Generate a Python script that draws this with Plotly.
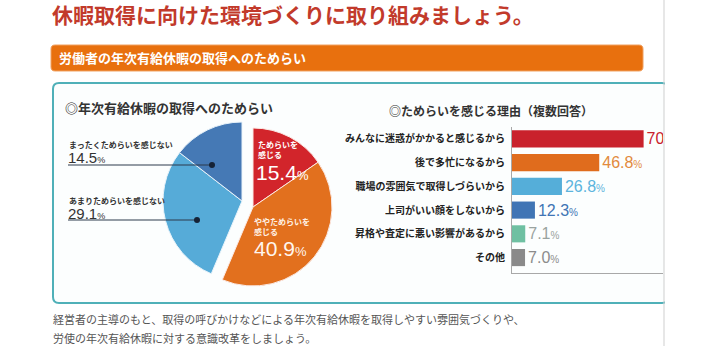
import plotly.graph_objects as go

W, H = 712, 346
JP = "Noto Sans CJK JP"
NUM = "Liberation Sans"


def px(x):
    return x / W


def py(y):
    return 1 - y / H


# ---------------- data ----------------
title_text = "休暇取得に向けた環境づくりに取り組みましょう。"
banner_text = "労働者の年次有給休暇の取得へのためらい"
pie_title = "◎年次有給休暇の取得へのためらい"
bar_title = "◎ためらいを感じる理由（複数回答）"
footer_lines = [
    "経営者の主導のもと、取得の呼びかけなどによる年次有給休暇を取得しやすい雰囲気づくりや、",
    "労使の年次有給休暇に対する意識改革をしましょう。",
]

pie_labels = ["ためらいを感じる", "ややためらいを感じる", "あまりためらいを感じない", "まったくためらいを感じない"]
pie_values = [15.4, 40.9, 29.1, 14.5]
pie_colors = ["#d2252b", "#e2701e", "#56abd8", "#4579b5"]

reason_labels = [
    "みんなに迷惑がかかると感じるから",
    "後で多忙になるから",
    "職場の雰囲気で取得しづらいから",
    "上司がいい顔をしないから",
    "昇格や査定に悪い影響があるから",
    "その他",
]
reason_values = [70.6, 46.8, 26.8, 12.3, 7.1, 7.0]
reason_colors = ["#c9212c", "#e06c1d", "#55aed9", "#4075b5", "#6fc0a2", "#8a8a8a"]
reason_text_colors = ["#c9212c", "#e28a3c", "#5cb4dd", "#4075b5", "#9aa3a0", "#8c8c8c"]

fig = go.Figure()

# ---------------- pie (two exploded groups) ----------------
R = 79
grp_a = pie_values[:2]
grp_b = pie_values[2:]
clear = "rgba(0,0,0,0)"


def dom(cx, cy, r):
    return dict(x=[px(cx - r), px(cx + r)], y=[py(cy + r), py(cy - r)])


fig.add_trace(go.Pie(
    values=grp_a + [sum(grp_b)],
    labels=pie_labels[:2] + ["_b"],
    marker=dict(colors=pie_colors[:2] + [clear],
                line=dict(color=["#fbe9e4", "#fbe9e4", clear], width=[1, 1, 0])),
    sort=False, direction="clockwise", rotation=0,
    textinfo="none", hoverinfo="label+value", showlegend=False,
    domain=dom(253, 207, R),
))
fig.add_trace(go.Pie(
    values=[sum(grp_a)] + grp_b,
    labels=["_a"] + pie_labels[2:],
    marker=dict(colors=[clear] + pie_colors[2:],
                line=dict(color=[clear, "#e8f3fa", "#e8f3fa"], width=[0, 1, 1])),
    sort=False, direction="clockwise", rotation=0,
    textinfo="none", hoverinfo="label+value", showlegend=False,
    domain=dom(242, 201, R),
))

# ---------------- bars ----------------
ys = list(range(len(reason_labels)))
fig.add_trace(go.Bar(
    x=reason_values, y=ys, orientation="h",
    marker=dict(color=reason_colors, line=dict(width=0)),
    width=0.72,
    text=[f"{v:.1f}<span style='font-size:10px'>%</span>" for v in reason_values],
    textposition="outside",
    textfont=dict(family=NUM, size=16, color=reason_text_colors),
    cliponaxis=True, constraintext="none",
    showlegend=False, hoverinfo="x+y",
))

fig.update_layout(
    width=W, height=H,
    margin=dict(l=0, r=0, t=0, b=0),
    paper_bgcolor="white", plot_bgcolor="rgba(0,0,0,0)",
    xaxis=dict(domain=[px(512), px(663)], range=[0, 81], showgrid=False,
               zeroline=False, showticklabels=False, ticks="",
               showline=True, linecolor="#a8a8a8", linewidth=1),
    yaxis=dict(domain=[py(273), py(127)], range=[5.65, -0.5], showgrid=False,
               zeroline=False, tickvals=ys, ticktext=[f"<b>{t}</b>" for t in reason_labels],
               ticks="", ticklabelstandoff=4,
               tickfont=dict(family=JP, size=10, color="#222222"),
               showline=True, linecolor="#a8a8a8", linewidth=1),
    bargap=0.28,
)

# ---------------- shapes ----------------
def rrect(x0, y0, x1, y1, r):
    X = lambda v: f"{px(v):.5f}"
    Y = lambda v: f"{py(v):.5f}"
    return (f"M {X(x0 + r)} {Y(y0)} L {X(x1 - r)} {Y(y0)} Q {X(x1)} {Y(y0)} {X(x1)} {Y(y0 + r)} "
            f"L {X(x1)} {Y(y1 - r)} Q {X(x1)} {Y(y1)} {X(x1 - r)} {Y(y1)} "
            f"L {X(x0 + r)} {Y(y1)} Q {X(x0)} {Y(y1)} {X(x0)} {Y(y1 - r)} "
            f"L {X(x0)} {Y(y0 + r)} Q {X(x0)} {Y(y0)} {X(x0 + r)} {Y(y0)} Z")


shapes = [
    dict(type="path", xref="paper", yref="paper", path=rrect(53, 83, 668, 303, 6),
         fillcolor="#fcfefe", line=dict(color="#4fb0b8", width=2), layer="below"),
    dict(type="path", xref="paper", yref="paper", path=rrect(51, 45, 643, 71, 4),
         fillcolor="#e8700e", line=dict(color="#f0a060", width=1), layer="below"),
    dict(type="rect", xref="paper", yref="paper", x0=px(665), x1=1, y0=0, y1=1,
         fillcolor="white", line=dict(width=0), layer="below"),
    dict(type="line", xref="paper", yref="paper", x0=px(664), x1=px(664), y0=0, y1=1,
         line=dict(color="#cfcfcf", width=1)),
    # leader lines for the pie labels
    dict(type="line", xref="paper", yref="paper", x0=px(68), x1=px(212), y0=py(165), y1=py(165),
         line=dict(color="#2d3b4c", width=1.2)),
    dict(type="line", xref="paper", yref="paper", x0=px(68), x1=px(197), y0=py(220), y1=py(220),
         line=dict(color="#2d3b4c", width=1.2)),
    dict(type="circle", xref="paper", yref="paper", x0=px(209), x1=px(215), y0=py(168), y1=py(162),
         fillcolor="#152236", line=dict(width=0)),
    dict(type="circle", xref="paper", yref="paper", x0=px(194), x1=px(200), y0=py(223), y1=py(217),
         fillcolor="#152236", line=dict(width=0)),
]
fig.update_layout(shapes=shapes)

# ---------------- annotations ----------------
ann = []


def add(text, x, y, size, color, family=JP, xanchor="left", bold=False):
    ann.append(dict(text=f"<b>{text}</b>" if bold else text, x=px(x), y=py(y),
                    xref="paper", yref="paper", xanchor=xanchor, yanchor="middle",
                    showarrow=False, font=dict(family=family, size=size, color=color)))


add(title_text, 50, 14, 21, "#c23a2b", bold=True)
add(banner_text, 57, 58, 13, "white", bold=True)
add(pie_title, 63, 108, 13, "#333333", bold=True)
add(bar_title, 491, 110, 12, "#333333", xanchor="center", bold=True)
for i, line in enumerate(footer_lines):
    add(line, 51, 319 + 19 * i, 11, "#555555")

# pie labels
add("ためらいを", 256, 145, 8, "white", bold=True)
add("感じる", 256, 154, 8, "white", bold=True)
add(f"{pie_values[0]}<span style='font-size:13px'>%</span>", 254, 172, 21, "white", family=NUM)
add("ややためらいを", 252, 222, 8, "#fff2e6", bold=True)
add("感じる", 252, 231, 8, "#fff2e6", bold=True)
add(f"{pie_values[1]}<span style='font-size:13px'>%</span>", 252, 248, 21, "#fff6ee", family=NUM)
add(pie_labels[3], 67, 144, 8, "#333333", bold=True)
add(f"{pie_values[3]}<span style='font-size:9px'>%</span>", 66, 157, 15, "#333333", family=NUM)
add(pie_labels[2], 67, 200, 8, "#333333", bold=True)
add(f"{pie_values[2]}<span style='font-size:9px'>%</span>", 66, 213, 15, "#333333", family=NUM)

fig.update_layout(annotations=ann)

fig.write_html("out.html")
